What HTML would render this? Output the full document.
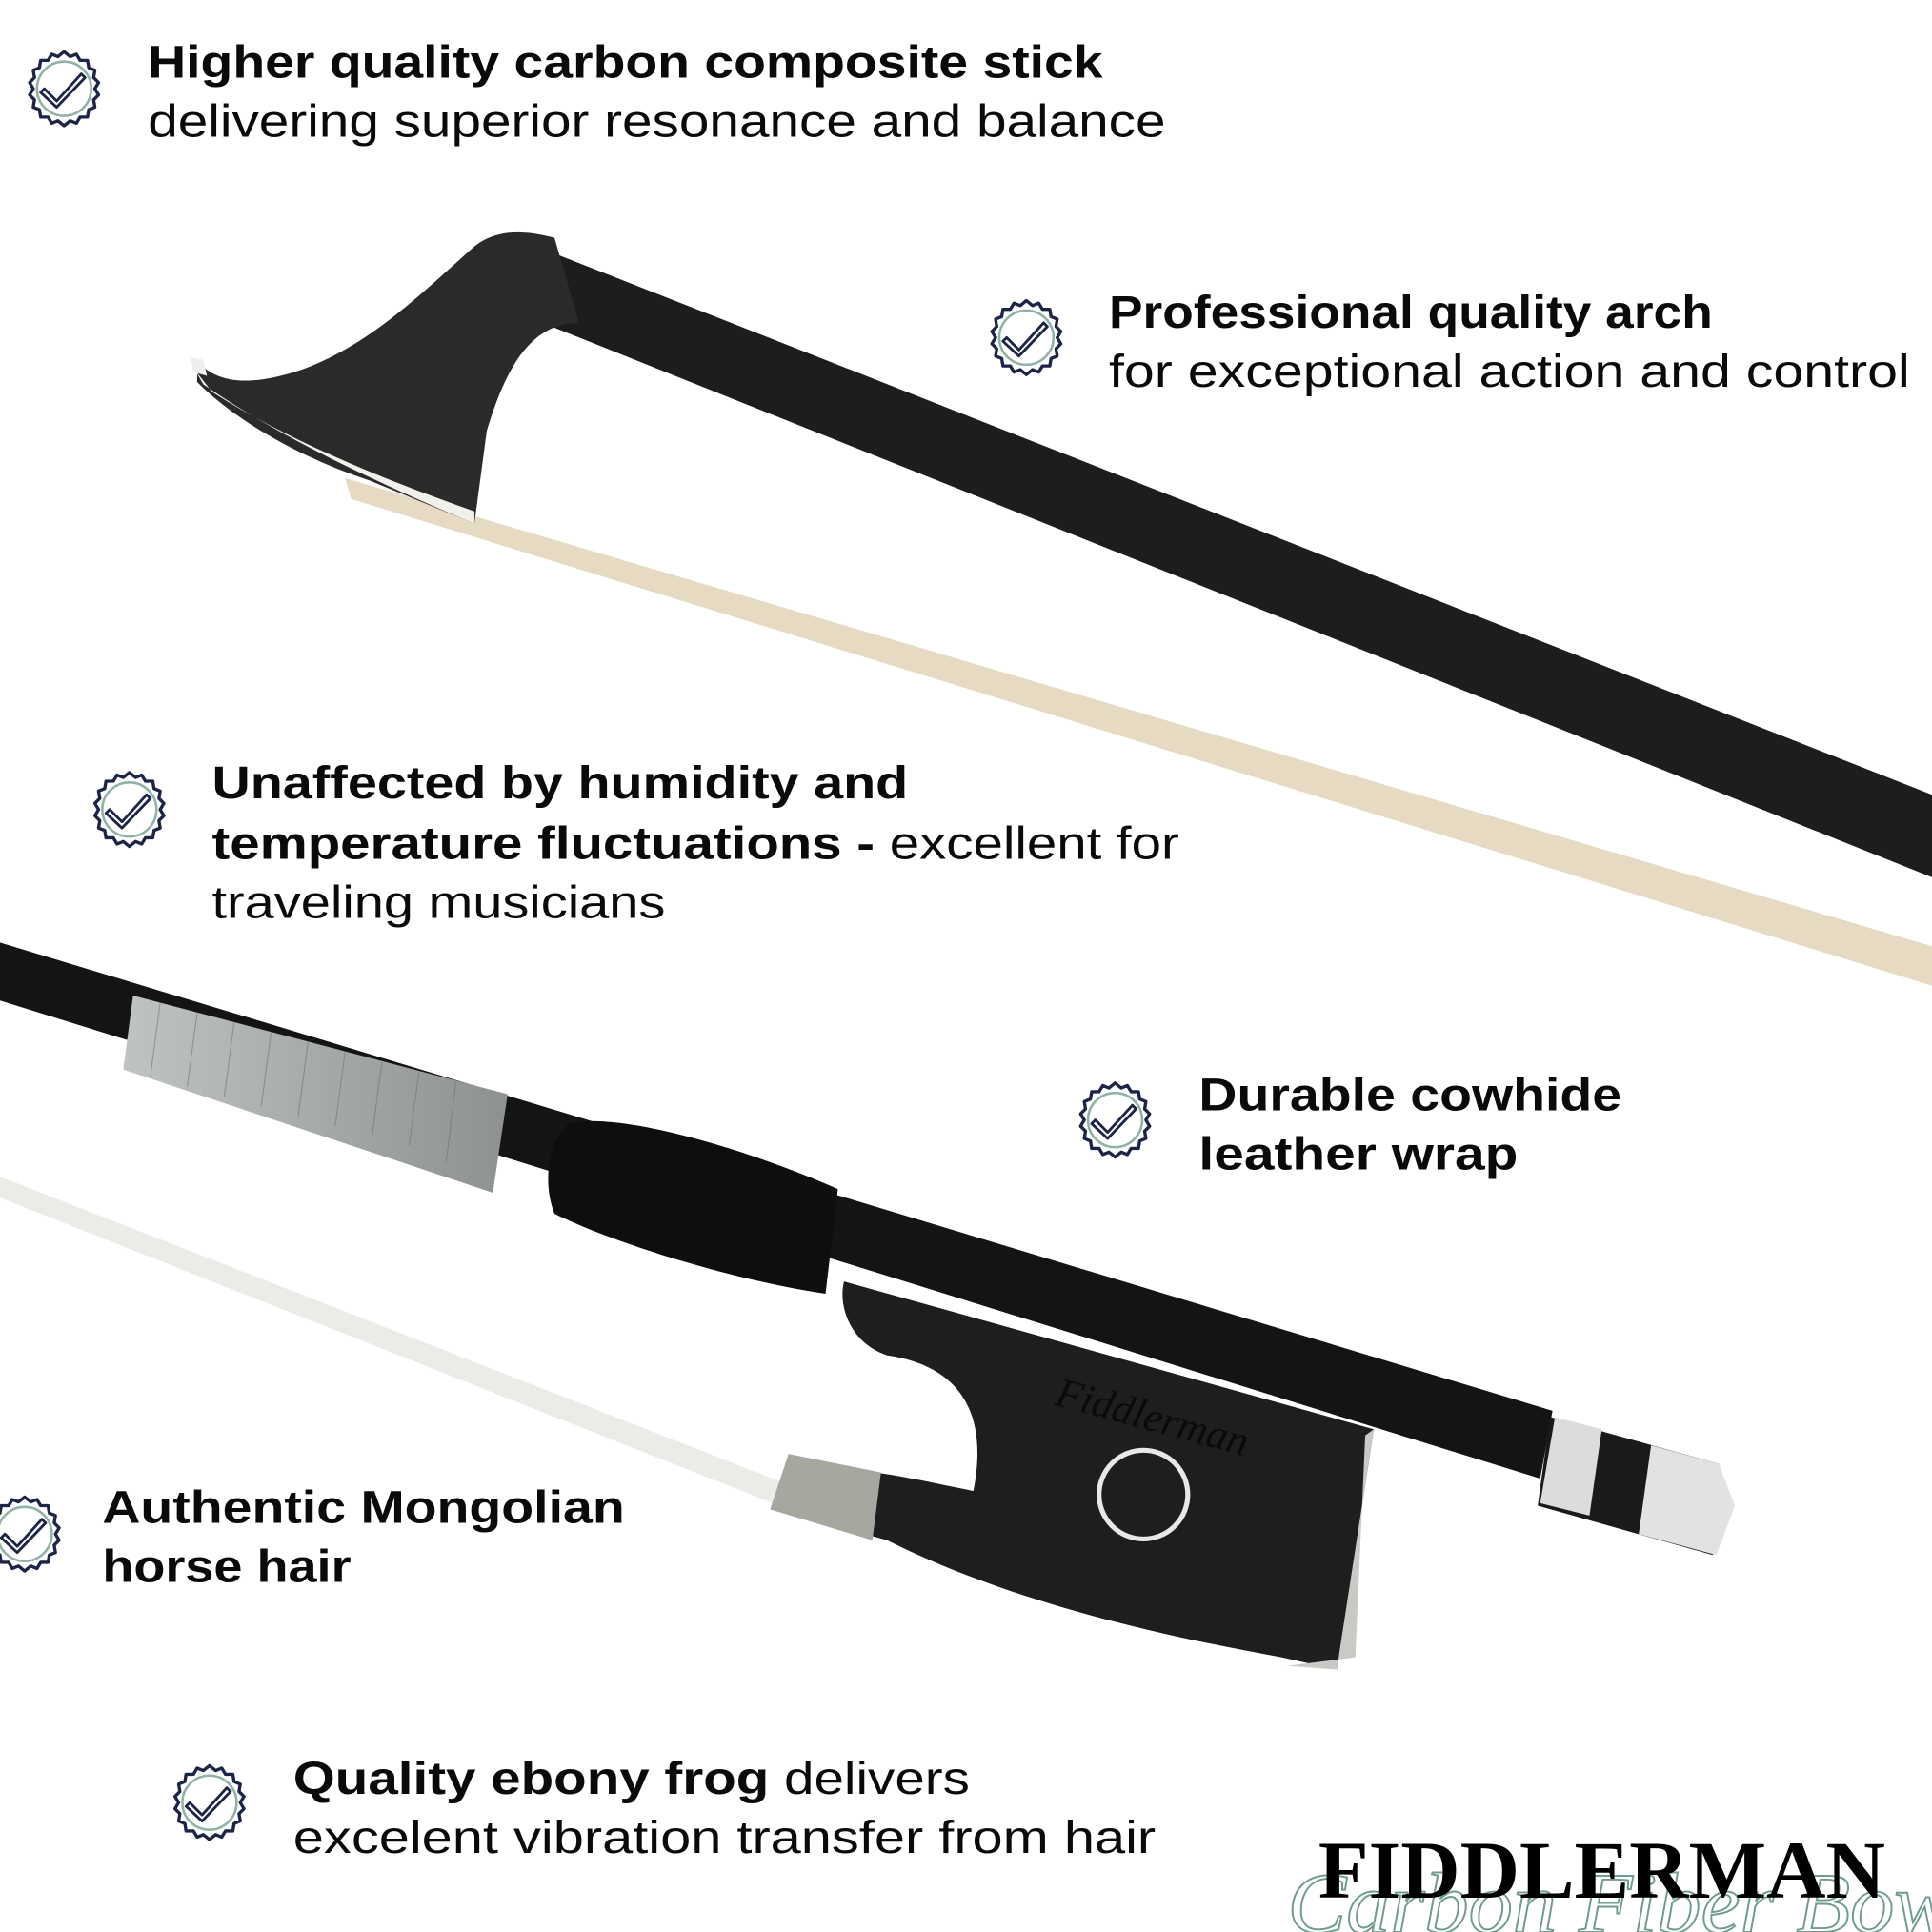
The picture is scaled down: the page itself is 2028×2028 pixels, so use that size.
<!DOCTYPE html>
<html><head><meta charset="utf-8"><style>
html,body{margin:0;padding:0;background:#fff;}
svg{display:block}
.t{font-family:"Liberation Sans",sans-serif;font-size:37px;fill:#0a0a0a}
.b{font-weight:bold}
</style></head><body>
<svg width="2028" height="2028" viewBox="0 0 1568 1568" xmlns="http://www.w3.org/2000/svg">
<defs>
<g id="badge">
<path d="M0,-30 L5,-26 10,-28 13,-23 19,-23 20,-17 25,-15 24,-9 28,-5 25,0 28,5 24,9 25,15 20,17 19,23 13,23 10,28 5,26 0,30 -5,26 -10,28 -13,23 -19,23 -20,17 -25,15 -24,9 -28,5 -25,0 -28,-5 -24,-9 -25,-15 -20,-17 -19,-23 -13,-23 -10,-28 -5,-26Z" fill="#fff" stroke="#1c2447" stroke-width="2.6" stroke-linejoin="round"/>
<circle r="22" fill="none" stroke="#8fb3a6" stroke-width="2"/>
<path d="M-16,0 L-6,10 L14,-12 L17,-9 L-6,15 L-19,3Z" fill="#fff" stroke="#1c2447" stroke-width="2.2" stroke-linejoin="round"/>
</g>
<linearGradient id="wrap" x1="0" x2="1" y1="0" y2="0">
<stop offset="0" stop-color="#bfc3c2"/><stop offset="1" stop-color="#8d9190"/>
</linearGradient>
</defs>

<!-- upper bow hair -->
<polygon points="280,388 1568,768 1568,800 285,405" fill="#e6dac2"/>
<!-- upper stick -->
<polygon points="410,190 1568,645 1568,712 440,262" fill="#1d1d1d"/>
<!-- head -->
<path d="M160,293 C175,310 200,315 245,300 C300,280 340,240 385,200 C400,188 420,185 450,193 L470,262 C430,262 410,300 395,350 L385,425 L300,390 C240,370 190,340 160,310Z" fill="#2a2a2a"/>
<path d="M158,300 L165,312 C220,350 290,385 385,425 L385,415 C300,385 230,355 172,318Z" fill="#f2f0ea"/>
<polygon points="155,290 165,292 168,305 157,302" fill="#eee"/>

<!-- lower bow hair -->
<polygon points="0,955 640,1205 640,1225 0,972" fill="#ecebe7"/>
<!-- lower stick -->
<polygon points="0,765 1260,1145 1250,1200 0,812" fill="#141414"/>
<!-- wrapping -->
<polygon points="108,808 412,888 400,968 100,868" fill="url(#wrap)"/>
<g stroke="#6d7170" stroke-width="0.8" opacity="0.6">
<line x1="130" y1="814" x2="122" y2="874"/><line x1="160" y1="822" x2="152" y2="882"/><line x1="190" y1="830" x2="182" y2="890"/><line x1="220" y1="838" x2="212" y2="898"/><line x1="250" y1="846" x2="242" y2="906"/><line x1="280" y1="854" x2="272" y2="914"/><line x1="310" y1="862" x2="302" y2="922"/><line x1="340" y1="870" x2="332" y2="930"/><line x1="370" y1="878" x2="362" y2="944"/>
</g>
<!-- leather -->
<path d="M462,912 C500,902 600,930 680,965 L670,1050 C600,1040 500,1010 450,985 C440,960 445,925 462,912Z" fill="#0e0e0e"/>
<!-- frog -->
<path d="M685,1040 L1115,1160 L1085,1355 L1040,1345 C900,1320 800,1290 720,1250 L630,1225 L640,1190 C700,1190 740,1200 790,1210 C800,1160 790,1110 720,1100 C690,1090 680,1060 685,1040Z" fill="#1e1e1e"/>
<path d="M1115,1160 L1085,1355 L1045,1352 L1100,1345 L1108,1165Z" fill="#c9c9c5"/>
<path d="M640,1180 L715,1195 L708,1250 L625,1225Z" fill="#a8a79f"/>
<circle cx="928" cy="1213" r="36" fill="none" stroke="#e8e8e8" stroke-width="4"/>
<text x="855" y="1140" font-family="Liberation Serif,serif" font-style="italic" font-size="34" fill="#0a0a0a" transform="rotate(15 855 1140)">Fiddlerman</text>
<!-- button -->
<polygon points="1258,1150 1395,1188 1405,1220 1390,1262 1248,1222" fill="#1a1a1a"/>
<polygon points="1262,1150 1300,1160 1290,1230 1250,1220" fill="#dcdcda"/>
<polygon points="1340,1173 1395,1188 1408,1222 1393,1262 1330,1245" fill="#e2e2e0"/>

<!-- badges -->
<use href="#badge" x="52" y="72"/>
<use href="#badge" x="833" y="274"/>
<use href="#badge" x="105" y="657"/>
<use href="#badge" x="905" y="909"/>
<use href="#badge" x="20" y="1245"/>
<use href="#badge" x="170" y="1463"/>

<!-- text -->
<text class="t b" x="120" y="63" textLength="775" lengthAdjust="spacingAndGlyphs">Higher quality carbon composite stick</text>
<text class="t" x="120" y="111" textLength="826" lengthAdjust="spacingAndGlyphs">delivering superior resonance and balance</text>

<text class="t b" x="900" y="266" textLength="490" lengthAdjust="spacingAndGlyphs">Professional quality arch</text>
<text class="t" x="900" y="314" textLength="650" lengthAdjust="spacingAndGlyphs">for exceptional action and control</text>

<text class="t b" x="172" y="648" textLength="565" lengthAdjust="spacingAndGlyphs">Unaffected by humidity and</text>
<text class="t" x="172" y="697" textLength="785" lengthAdjust="spacingAndGlyphs"><tspan class="b">temperature fluctuations - </tspan>excellent for</text>
<text class="t" x="172" y="745" textLength="368" lengthAdjust="spacingAndGlyphs">traveling musicians</text>

<text class="t b" x="973" y="901" textLength="343" lengthAdjust="spacingAndGlyphs">Durable cowhide</text>
<text class="t b" x="973" y="949" textLength="259" lengthAdjust="spacingAndGlyphs">leather wrap</text>

<text class="t b" x="83" y="1236" textLength="424" lengthAdjust="spacingAndGlyphs">Authentic Mongolian</text>
<text class="t b" x="83" y="1284" textLength="202" lengthAdjust="spacingAndGlyphs">horse hair</text>

<text class="t" x="238" y="1456" textLength="549" lengthAdjust="spacingAndGlyphs"><tspan class="b">Quality ebony frog</tspan> delivers</text>
<text class="t" x="238" y="1504" textLength="700" lengthAdjust="spacingAndGlyphs">excelent vibration transfer from hair</text>

<!-- logo -->
<text x="1045" y="1568" font-family="Liberation Serif,serif" font-style="italic" font-size="70" fill="none" stroke="#6f9c8e" stroke-width="1.5" textLength="540" lengthAdjust="spacingAndGlyphs">Carbon Fiber Bow</text>
<text x="1070" y="1540" font-family="Liberation Serif,serif" font-weight="bold" font-size="66" fill="#000" textLength="460" lengthAdjust="spacingAndGlyphs">FIDDLERMAN</text>
</svg>
</body></html>
